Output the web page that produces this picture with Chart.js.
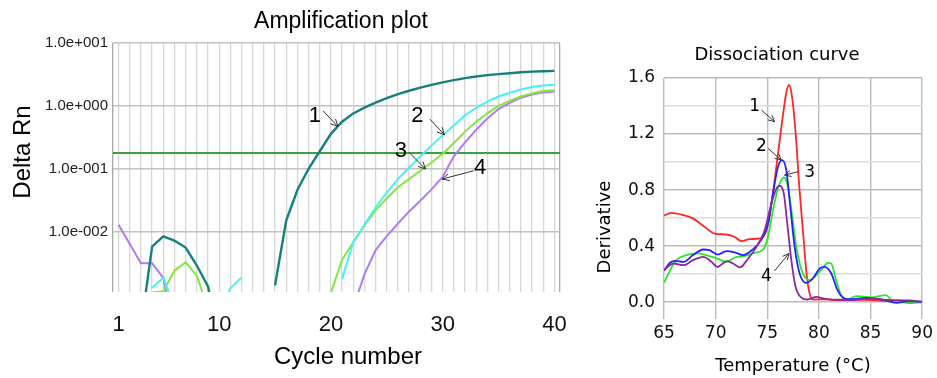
<!DOCTYPE html>
<html lang="en">
<head>
<meta charset="utf-8">
<title>Amplification plot / Dissociation curve</title>
<script src="https://cdn.jsdelivr.net/npm/chart.js@4.4.1/dist/chart.umd.min.js"></script>
<style>
  html, body { margin: 0; padding: 0; background: #fff; }
  #page { position: relative; width: 937px; height: 378px; overflow: hidden; }
  #gauche { position: absolute; left: 0; top: 0; }
  #droite { position: absolute; left: 580px; top: 0; }
</style>
</head>
<body>
<div id="page">
  <canvas id="gauche" width="580" height="378"></canvas>
  <canvas id="droite" width="357" height="378"></canvas>
</div>
<script>
// ---- Amplification plot (échelle log) ----
const cycles = [1, 2, 3, 4, 5, 6, 7, 8, 9, 10, 11, 12, 13, 14, 15, 16, 17, 18, 19, 20,
                21, 22, 23, 24, 25, 26, 27, 28, 29, 30, 31, 32, 33, 34, 35, 36, 37, 38, 39, 40];
const cycleTickLabels = [1, 10, 20, 30, 40];
const deltaRnTicks = [0.01, 0.1, 1, 10];
const deltaRnTickLabels = ['1.0e-002', '1.0e-001', '1.0e+000', '1.0e+001'];
const seuil = 0.178;

const courbe1 = [null, null, 0.0003, 0.0058, 0.0084, 0.0072, 0.0056, 0.0029, 0.00135, 0.0002,
                 null, null, null, null, 0.0014, 0.015, 0.046, 0.10, 0.19, 0.36,
                 0.56, 0.76, 0.94, 1.13, 1.33, 1.54, 1.74, 1.95, 2.16, 2.37,
                 2.57, 2.77, 2.93, 3.08, 3.20, 3.31, 3.43, 3.51, 3.56, 3.60];
const courbe2 = [null, null, null, 0.00128, 0.00184, 0.00065, null, null, null, 0.00047,
                 0.00126, 0.00188, null, null, null, null, null, null, null, null,
                 0.00178, 0.0068, 0.0129, 0.0245, 0.042, 0.069, 0.105, 0.158, 0.234, 0.34,
                 0.49, 0.71, 0.93, 1.17, 1.41, 1.62, 1.82, 2.0, 2.11, 2.16];
const courbe3 = [null, null, null, 0.00108, 0.00113, 0.0024, 0.00326, 0.0020, 0.0006, null,
                 null, null, null, null, null, null, null, null, null, 0.00107,
                 0.0036, 0.0068, 0.0126, 0.022, 0.034, 0.051, 0.069, 0.093, 0.126, 0.174,
                 0.257, 0.39, 0.56, 0.76, 1.0, 1.2, 1.41, 1.58, 1.72, 1.78];
const courbe4 = [0.0129, 0.0064, 0.00314, 0.00314, 0.00184, 0.00023, null, null, null, null,
                 null, null, null, null, null, null, null, null, null, null,
                 null, 0.00063, 0.0021, 0.0051, 0.0085, 0.0135, 0.021, 0.031, 0.047, 0.074,
                 0.158, 0.263, 0.417, 0.63, 0.89, 1.12, 1.35, 1.51, 1.64, 1.69];

// repères numérotés (coordonnées en données)
const reperesAmpli = ['1', '2', '3', '4'];
const reperesAmpliTexteX = [18.56, 27.73, 26.25, 33.35];
const reperesAmpliTexteY = [0.69, 0.69, 0.193, 0.105];
const reperesAmpliDebutX = [19.3, 28.86, 26.99, 32.77];
const reperesAmpliDebutY = [0.834, 0.615, 0.182, 0.093];
const reperesAmpliFinX = [20.63, 30.16, 28.47, 29.95];
const reperesAmpliFinY = [0.469, 0.347, 0.099, 0.0686];

// ---- Dissociation curve ----
const tempRouge = [65, 65.7, 66.9, 67.8, 68.8, 69.9, 71.0, 71.8, 72.5, 73.3, 74.3, 74.8, 75.1, 75.55, 76.0,
                   76.5, 76.85, 77.1, 77.4, 77.75, 78.1, 78.5, 78.8, 79.1, 79.4, 80.4, 82, 84.6, 86, 87.8, 89, 90];
const derivRouge = [0.617, 0.638, 0.621, 0.598, 0.545, 0.49, 0.483, 0.467, 0.436, 0.45, 0.455, 0.49, 0.562, 0.776, 1.038,
                    1.324, 1.50, 1.55, 1.466, 1.205, 0.824, 0.467, 0.205, 0.062, 0.019, 0.02, 0.018, 0.017, 0.012, 0.003, -0.005, 0.0];
const tempBleu = [65, 65.6, 66.1, 66.9, 67.8, 68.8, 69.4, 70.2, 71.05, 71.85, 72.65, 73.5, 74.4, 75.07, 75.55, 76.04,
                  76.45, 76.84, 77.23, 77.65, 78.13, 78.77, 79.41, 80.06, 80.54, 81.2, 81.8, 82.47, 82.95, 84.6, 86.2, 87.5, 88.75, 90];
const derivBleu = [0.224, 0.283, 0.295, 0.288, 0.336, 0.376, 0.371, 0.34, 0.364, 0.355, 0.336, 0.371, 0.443, 0.562, 0.776, 0.967,
                   1.014, 0.943, 0.681, 0.395, 0.205, 0.138, 0.169, 0.24, 0.252, 0.205, 0.086, 0.026, 0.021, 0.031, 0.017, -0.005, 0.008, 0.003];
const tempVert = [65, 65.6, 66.2, 67.2, 68.2, 69.1, 70.1, 71.05, 71.85, 72.8, 73.8, 74.6, 75.07, 75.55, 76.04, 76.36, 76.61,
                  77.0, 77.42, 77.87, 78.44, 79.1, 79.57, 80.22, 80.86, 81.19, 81.67, 82.15, 82.8, 83.6, 85.2, 86.5, 87.0, 88, 90];
const derivVert = [0.138, 0.229, 0.30, 0.336, 0.348, 0.336, 0.312, 0.288, 0.319, 0.329, 0.352, 0.376, 0.467, 0.657, 0.812, 0.871, 0.89,
                   0.824, 0.61, 0.371, 0.205, 0.157, 0.181, 0.229, 0.281, 0.276, 0.157, 0.05, 0.021, 0.043, 0.035, 0.05, 0.017, 0.0, 0.0];
const tempViolet = [65, 65.9, 66.9, 67.8, 68.8, 69.6, 70.15, 71.1, 71.7, 72.35, 73.15, 73.95, 74.75, 75.4, 75.9,
                    76.2, 76.6, 76.9, 77.33, 77.74, 78.3, 78.9, 79.75, 80.5, 81.35, 83, 85, 86.5, 88.75, 90];
const derivViolet = [0.229, 0.276, 0.264, 0.30, 0.324, 0.288, 0.252, 0.293, 0.276, 0.248, 0.312, 0.395, 0.514, 0.705, 0.812,
                     0.831, 0.776, 0.586, 0.30, 0.11, 0.033, 0.019, 0.038, 0.026, 0.017, 0.014, 0.026, 0.017, 0.012, 0.003];
const derivTicks = [0, 0.2, 0.4, 0.6, 0.8, 1.0, 1.2, 1.4, 1.6];
const derivTickLabels = ['0.0', '', '0.4', '', '0.8', '', '1.2', '', '1.6'];

const reperesDisso = ['1', '2', '3', '4'];
const reperesDissoTexteX = [73.78, 74.43, 79.1, 74.91];
const reperesDissoTexteY = [1.395, 1.114, 0.924, 0.181];
const reperesDissoDebutX = [74.43, 75.07, 77.97, 75.71];
const reperesDissoDebutY = [1.371, 1.098, 0.931, 0.224];
const reperesDissoFinX = [75.71, 76.36, 76.68, 77.1];
const reperesDissoFinY = [1.288, 1.014, 0.907, 0.348];

// ---------------------------------------------------------------
function points(xs, ys) {
    return xs.map((v, i) => ({ x: v, y: ys[i] }));
}

// textes libres (titres) en pixels du canvas
function pluginTextes(items) {
    return {
        id: 'textes',
        afterDraw(chart) {
            const ctx = chart.ctx;
            items.forEach(t => {
                ctx.save();
                ctx.font = t.font;
                ctx.fillStyle = '#000';
                ctx.textAlign = 'center';
                ctx.textBaseline = 'middle';
                ctx.translate(t.x, t.y);
                if (t.rot) ctx.rotate(t.rot);
                ctx.fillText(t.text, 0, 0);
                ctx.restore();
            });
        }
    };
}

// numéros + flèches, placés en coordonnées de données
function pluginReperes(r) {
    return {
        id: 'reperes',
        afterDatasetsDraw(chart) {
            const { ctx, scales: { x, y } } = chart;
            r.labels.forEach((lab, i) => {
                ctx.save();
                ctx.font = r.font;
                ctx.fillStyle = '#000';
                ctx.textAlign = 'center';
                ctx.textBaseline = 'middle';
                ctx.fillText(lab, x.getPixelForValue(r.tx[i]), y.getPixelForValue(r.ty[i]));
                const x1 = x.getPixelForValue(r.x1[i]), y1 = y.getPixelForValue(r.y1[i]);
                const x2 = x.getPixelForValue(r.x2[i]), y2 = y.getPixelForValue(r.y2[i]);
                const ang = Math.atan2(y2 - y1, x2 - x1);
                ctx.strokeStyle = '#333';
                ctx.lineWidth = 1;
                ctx.beginPath();
                ctx.moveTo(x1, y1);
                ctx.lineTo(x2, y2);
                ctx.moveTo(x2 - r.head * Math.cos(ang - 0.45), y2 - r.head * Math.sin(ang - 0.45));
                ctx.lineTo(x2, y2);
                ctx.lineTo(x2 - r.head * Math.cos(ang + 0.45), y2 - r.head * Math.sin(ang + 0.45));
                ctx.stroke();
                ctx.restore();
            });
        }
    };
}

Chart.defaults.font.family = "'Liberation Sans', Arial, sans-serif";
Chart.defaults.color = '#111';

// ---- graphique de gauche ----
const ligne = (data, couleur, w) => ({
    data: cycles.map((c, i) => ({ x: c, y: data[i] })),
    borderColor: couleur,
    borderWidth: w,
    pointRadius: 0,
    tension: 0,
    spanGaps: false
});

new Chart(document.getElementById('gauche'), {
    type: 'line',
    data: {
        datasets: [
            ligne(courbe1, '#17807e', 2.4),
            ligne(courbe2, '#45f2f4', 2),
            ligne(courbe3, '#82e63c', 2),
            ligne(courbe4, '#b27af2', 2),
            {
                data: [{ x: 0.5, y: seuil }, { x: 40.5, y: seuil }],
                borderColor: '#3d9f3d',
                borderWidth: 2,
                pointRadius: 0
            }
        ]
    },
    options: {
        responsive: false,
        animation: false,
        layout: { padding: { top: 43, right: 17, left: 0, bottom: 0 } },
        plugins: { legend: { display: false }, tooltip: { enabled: false } },
        scales: {
            x: {
                type: 'linear',
                min: 0.5,
                max: 40.5,
                afterBuildTicks: s => { s.ticks = [{ value: s.min }, ...cycles.map(c => ({ value: c })), { value: s.max }]; },
                afterFit: s => { s.height = 86; },
                ticks: {
                    autoSkip: false,
                    maxRotation: 0,
                    padding: 20,
                    font: { size: 22 },
                    color: '#111',
                    callback: v => cycleTickLabels.includes(v) ? String(v) : ''
                },
                grid: {
                    drawTicks: false,
                    color: c => (c.tick && (c.tick.value === 0.5 || c.tick.value === 40.5)) ? '#a9a9a9' : '#d6d6d6',
                    lineWidth: 1.3
                },
                border: { display: false }
            },
            y: {
                type: 'logarithmic',
                min: 0.0011,
                max: 10,
                afterBuildTicks: s => { s.ticks = deltaRnTicks.map(v => ({ value: v })); },
                afterFit: s => { s.width = 113; },
                ticks: {
                    padding: 5,
                    font: { size: 15 },
                    color: '#222',
                    callback: v => deltaRnTickLabels[deltaRnTicks.indexOf(v)] || ''
                },
                grid: { drawTicks: false, color: '#c2c2c2', lineWidth: 1.6 },
                border: { display: false }
            }
        }
    },
    plugins: [
        pluginTextes([
            { text: 'Amplification plot', x: 341, y: 22, font: "23px 'Liberation Sans'" },
            { text: 'Delta Rn', x: 23, y: 152, font: "24px 'Liberation Sans'", rot: -Math.PI / 2 },
            { text: 'Cycle number', x: 348, y: 357, font: "24px 'Liberation Sans'" }
        ]),
        pluginReperes({
            labels: reperesAmpli, tx: reperesAmpliTexteX, ty: reperesAmpliTexteY,
            x1: reperesAmpliDebutX, y1: reperesAmpliDebutY, x2: reperesAmpliFinX, y2: reperesAmpliFinY,
            font: "22px 'Liberation Sans'", head: 8
        })
    ]
});

// ---- graphique de droite ----
const courbeDisso = (xs, ys, couleur) => ({
    data: points(xs, ys),
    borderColor: couleur,
    borderWidth: 1.8,
    pointRadius: 0,
    cubicInterpolationMode: 'monotone'
});

new Chart(document.getElementById('droite'), {
    type: 'line',
    data: {
        datasets: [
            courbeDisso(tempViolet, derivViolet, '#8a2b9c'),
            courbeDisso(tempBleu, derivBleu, '#2424ff'),
            courbeDisso(tempVert, derivVert, '#2ae62a'),
            courbeDisso(tempRouge, derivRouge, '#ff2626')
        ]
    },
    options: {
        responsive: false,
        animation: false,
        layout: { padding: { top: 78, right: 14, left: 0, bottom: 0 } },
        plugins: { legend: { display: false }, tooltip: { enabled: false } },
        scales: {
            x: {
                type: 'linear',
                min: 65,
                max: 90,
                afterFit: s => { s.height = 59; },
                ticks: {
                    stepSize: 5,
                    maxRotation: 0,
                    padding: 4,
                    font: { family: "'DejaVu Sans'", size: 17 },
                    color: '#111'
                },
                grid: { drawTicks: false, color: '#bcbcbc', lineWidth: 1.4 },
                border: { display: false }
            },
            y: {
                min: -0.12,
                max: 1.6,
                afterBuildTicks: s => { s.ticks = derivTicks.map(v => ({ value: v })); },
                afterFit: s => { s.width = 84; },
                ticks: {
                    padding: 9,
                    font: { family: "'DejaVu Sans'", size: 17 },
                    color: '#111',
                    callback: v => derivTickLabels[derivTicks.findIndex(t => Math.abs(t - v) < 1e-6)] || ''
                },
                grid: {
                    drawTicks: false,
                    color: c => (c.index % 2 === 0) ? '#bcbcbc' : '#dcdcdc',
                    lineWidth: 1.4
                },
                border: { display: false }
            }
        }
    },
    plugins: [
        pluginTextes([
            { text: 'Dissociation curve', x: 197, y: 55, font: "18px 'DejaVu Sans'" },
            { text: 'Derivative', x: 25, y: 227, font: "18px 'DejaVu Sans'", rot: -Math.PI / 2 },
            { text: 'Temperature (°C)', x: 213, y: 366, font: "18px 'DejaVu Sans'" }
        ]),
        pluginReperes({
            labels: reperesDisso, tx: reperesDissoTexteX, ty: reperesDissoTexteY,
            x1: reperesDissoDebutX, y1: reperesDissoDebutY, x2: reperesDissoFinX, y2: reperesDissoFinY,
            font: "17px 'DejaVu Sans'", head: 7
        })
    ]
});
</script>
</body>
</html>
